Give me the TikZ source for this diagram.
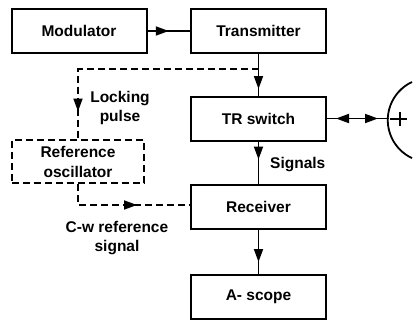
\documentclass[tikz,border=0pt]{standalone}
\usepackage{fontspec}
\setmainfont{Liberation Sans}
\usetikzlibrary{arrows.meta,decorations.markings}
\tikzset{
  blk/.style={draw, line width=2pt, minimum width=135pt, minimum height=44pt, inner sep=0pt, font=\bfseries\fontsize{15.5}{18}\selectfont, align=center},
  dblk/.style={blk, dash pattern=on 7pt off 4pt},
  conn/.style={line width=1.8pt},
  dconn/.style={conn, dash pattern=on 7pt off 4pt},
  lbl/.style={font=\bfseries\fontsize{15.5}{19}\selectfont, align=center, inner sep=0pt},
  tip/.style={postaction={decorate,decoration={markings,mark=at position #1 with {\arrow{Triangle[length=13pt,width=9pt]}}}}},
  rtip/.style={postaction={decorate,decoration={markings,mark=at position #1 with {\arrowreversed{Triangle[length=13pt,width=9pt]}}}}},
}
\begin{document}
\begin{tikzpicture}[x=1pt,y=-1pt]
\useasboundingbox (0,0) rectangle (414,321);
\node[blk] (mod) at (79,31) {Modulator};
\node[blk] (tx) at (258.5,31) {Transmitter};
\node[blk] (tr) at (258.5,118.5) {TR switch};
\node[blk] (rx) at (258.5,207) {Receiver};
\node[blk] (sc) at (258.5,296.5) {A- scope};
\node[dblk, minimum width=132pt, minimum height=43pt, font=\bfseries\fontsize{15.5}{20}\selectfont] (ref) at (78,161.5) {Reference\\oscillator};
\coordinate (br) at (258.5,69);
\coordinate (ant) at (389,118.5);
% connectors
\draw[conn, tip=0.5] (mod) -- (tx);
\draw[conn, tip=35pt] (tx) -- (tr);
\draw[conn, tip=18pt] (tr) -- (rx);
\draw[conn, tip=32pt] (rx) -- (sc);
\draw[dconn, tip=223pt] (br) -| (ref.north);
\draw[dconn, tip=80pt] (ref.south) |- ([yshift=2pt]rx.west);
\draw[conn, rtip=9pt, tip=51pt] (tr.east) -- (ant);
% antenna
\draw[line width=1.8pt] (412,82) arc[start angle=115, end angle=245, radius=42pt];
\draw[line width=1.5pt] (390,119) -- (407,119) (400,112) -- (400,126);
% labels
\node[lbl] (lp) at (120,108) {Locking\\pulse};
\node[lbl, anchor=west] (sg) at (270,165) {Signals};
\node[lbl] (cw) at (117,238) {C-w reference\\signal};
\end{tikzpicture}
\end{document}
